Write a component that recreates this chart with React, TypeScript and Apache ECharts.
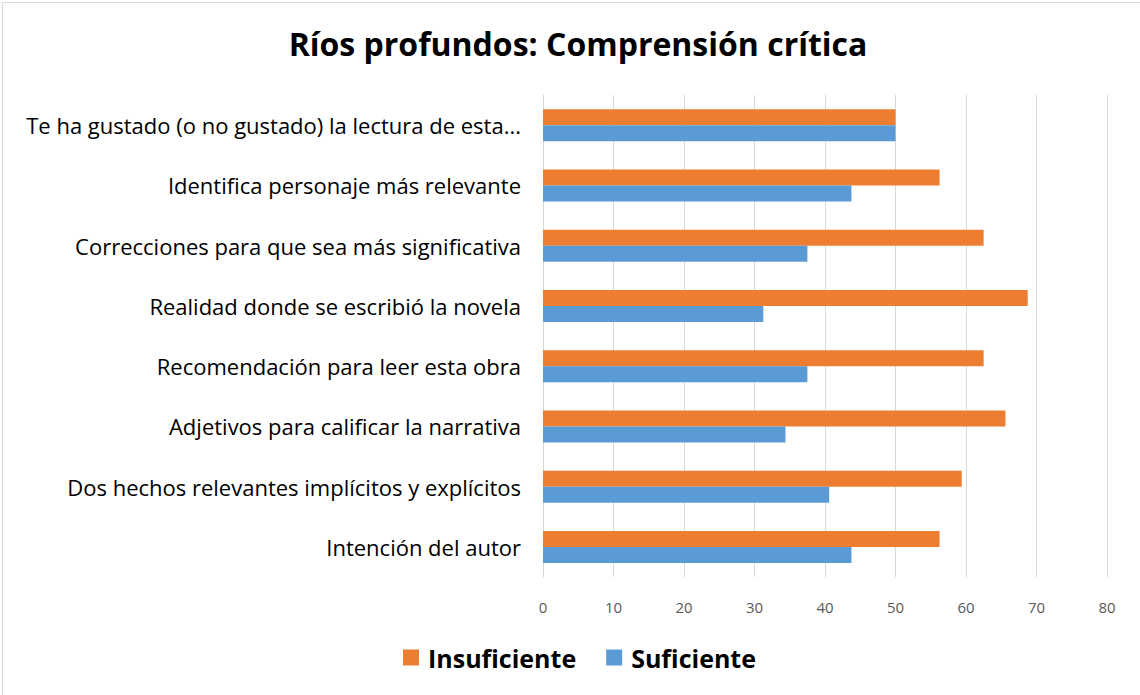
import React, { useEffect, useRef } from "react";
import * as echarts from "echarts";

const categories = [
  "Intención del autor",
  "Dos hechos relevantes implícitos y explícitos",
  "Adjetivos para calificar la narrativa",
  "Recomendación para leer esta obra",
  "Realidad donde se escribió la novela",
  "Correcciones para que sea más significativa",
  "Identifica personaje más relevante",
  "Te ha gustado (o no gustado) la lectura de esta...",
];
const insuficiente = [56.25, 59.4, 65.6, 62.5, 68.75, 62.5, 56.25, 50];
const suficiente = [43.75, 40.6, 34.4, 37.5, 31.25, 37.5, 43.75, 50];

export default function App() {
  const ref = useRef<HTMLDivElement>(null);
  useEffect(() => {
    if (!ref.current) return;
    const chart = echarts.init(ref.current, null, { renderer: "svg" });
    const font = "'Open Sans', Lato, sans-serif";
    chart.setOption({
      animation: false,
      backgroundColor: "#ffffff",
      title: {
        text: "Ríos profundos: Comprensión crítica",
        left: 573,
        top: 22,
        textAlign: "center",
        textStyle: { fontFamily: font, fontSize: 32, fontWeight: "bold", color: "#000000" },
      },
      legend: {
        data: ["Insuficiente", "Suficiente"],
        left: 398,
        top: 640,
        itemWidth: 16,
        itemHeight: 16,
        itemGap: 30,
        icon: "rect",
        textStyle: {
          fontFamily: font,
          fontSize: 25,
          fontWeight: "bold",
          color: "#000000",
          padding: [0, 0, 0, 4],
        },
      },
      grid: { left: 543, right: 33, top: 95, bottom: 118, containLabel: false },
      xAxis: {
        type: "value",
        min: 0,
        max: 80,
        interval: 10,
        axisLine: { show: false },
        axisTick: { show: false },
        axisLabel: { fontFamily: font, fontSize: 15, color: "#595959", margin: 22 },
        splitLine: { show: true, lineStyle: { color: "#d9d9d9", width: 1 } },
      },
      yAxis: {
        type: "category",
        data: categories,
        axisLine: { show: true, lineStyle: { color: "#d9d9d9" } },
        axisTick: { show: false },
        axisLabel: { fontFamily: font, fontSize: 22, color: "#000000", margin: 22 },
      },
      series: [
        {
          name: "Insuficiente",
          type: "bar",
          data: insuficiente,
          barWidth: 16,
          barGap: "0%",
          itemStyle: { color: "#ed7d31" },
        },
        {
          name: "Suficiente",
          type: "bar",
          data: suficiente,
          barWidth: 16,
          barGap: "0%",
          itemStyle: { color: "#5b9bd5" },
        },
      ],
      graphic: [
        {
          type: "rect",
          shape: { x: 2.5, y: 2.5, width: 1140, height: 700 },
          style: { fill: "none", stroke: "#d9d9d9", lineWidth: 1 },
          silent: true,
        },
      ],
    });
    return () => chart.dispose();
  }, []);
  return (
    <div
      ref={ref}
      style={{ position: "fixed", left: 0, top: 0, width: 1140, height: 695 }}
    />
  );
}
